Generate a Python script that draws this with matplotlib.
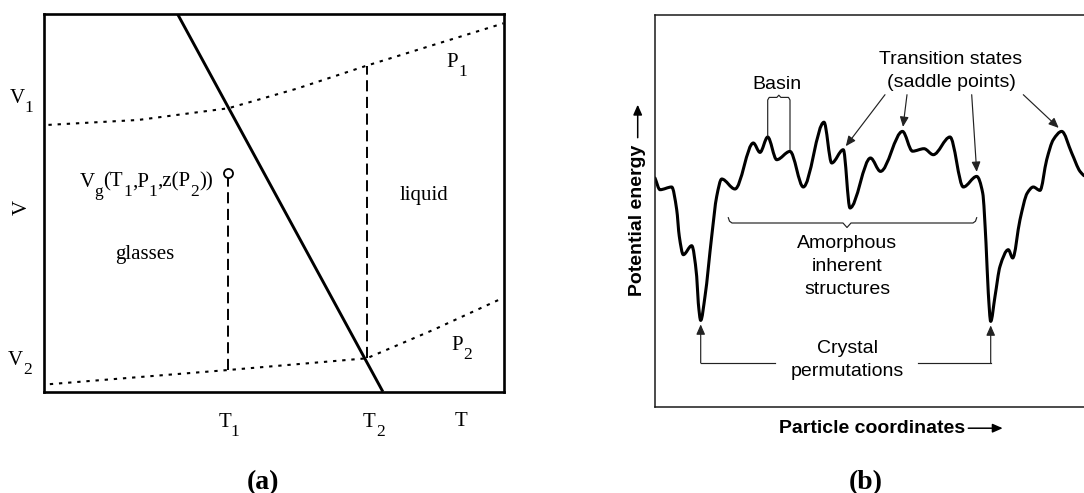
import numpy as np
import matplotlib
matplotlib.use("Agg")
import matplotlib.pyplot as plt
from matplotlib.path import Path
from matplotlib.patches import PathPatch
from matplotlib.transforms import offset_copy

plt.rcParams['lines.scale_dashes'] = False

SERIF = 'Liberation Serif'
SANS = 'Liberation Sans'

# ---------------- panel (a): V-T diagram, normalised units 0..100 ----------------
boundary_T = [29.0, 73.6]
boundary_V = [100.0, 0.0]
p1_T = [0.9, 20.4, 40.0, 54.9, 70.1, 84.9, 99.8]
p1_V = [70.7, 72.0, 75.1, 80.3, 86.4, 92.0, 97.6]
p2_T = [1.2, 40.0, 70.1, 84.6, 99.8]
p2_V = [2.0, 5.75, 8.85, 16.4, 24.9]
T1, T2 = 40.0, 70.1
t1_drop_V = [5.75, 57.9]
t2_drop_V = [8.85, 86.4]

# ---------------- panel (b): energy landscape ----------------
coord = [0, 5, 16.7, 21.7, 24.3, 28.3, 36.7, 41.7, 43.3, 45.7, 50, 56.7, 61.7, 66.7,
         80, 98.3, 105, 112.7, 121.7, 135, 148.3, 169, 176.7, 188.3, 195, 215.5,
         225.5, 247.5, 257.5, 269, 278.3, 295, 308.3, 321.7, 327.7, 331, 333.3,
         335.7, 340, 345, 353.3, 357.7, 365, 372.3, 378.3, 385, 391.7, 398.3,
         406.7, 416.7, 425, 429]
energy = [228.7, 217, 219.7, 197, 170.3, 152, 161, 130.3, 103.7, 86.3, 110.3, 170.3,
          210.3, 227.7, 217.7, 263.7, 254.3, 269.7, 247, 255.3, 219.7, 284.5, 243.7,
          257, 198.7, 248.7, 235.3, 275.3, 255.5, 258, 252, 269.7, 219.7, 230.3,
          213.7, 163.7, 113.7, 85.3, 110.3, 140.3, 157, 148.7, 187, 213.7, 219.7,
          216.3, 247, 267, 275.3, 253.7, 235.3, 231]
basin_idx = (17, 19)            # the two maxima bounding one basin
saddle_idx = [23, 27, 33, 48]   # transition states that are labelled
crystal_idx = [9, 37]           # crystalline minima


def smooth_path(x, y):
    """Shape-preserving cubic (PCHIP-style) Bezier path through the points."""
    x = np.asarray(x, float)
    y = np.asarray(y, float)
    h = np.diff(x)
    d = np.diff(y) / h
    m = np.zeros_like(x)
    for i in range(1, len(x) - 1):
        if d[i - 1] * d[i] > 0:
            w1 = 2 * h[i] + h[i - 1]
            w2 = h[i] + 2 * h[i - 1]
            m[i] = (w1 + w2) / (w1 / d[i - 1] + w2 / d[i])
    m[0] = d[0]
    m[-1] = d[-1]
    verts = [(x[0], y[0])]
    codes = [Path.MOVETO]
    for i in range(len(x) - 1):
        verts += [(x[i] + h[i] / 3, y[i] + m[i] * h[i] / 3),
                  (x[i + 1] - h[i] / 3, y[i + 1] - m[i + 1] * h[i] / 3),
                  (x[i + 1], y[i + 1])]
        codes += [Path.CURVE4] * 3
    return Path(verts, codes)


W, H = 1084, 493
fig = plt.figure(figsize=(W / 100, H / 100), dpi=100)
fig.patch.set_facecolor('white')
renderer = fig.canvas.get_renderer()


def box(left, top, right, bottom):
    return [left / W, 1 - bottom / H, (right - left) / W, (bottom - top) / H]


def sub_label(ax, x, y, parts, fs=15, sub_fs=12.5, drop=6.5, ha='left'):
    """Serif label built from (text, is_subscript) pieces laid out in a row."""
    pieces = []
    dx = 0.0
    for s, sub in parts:
        t = ax.text(x, y, s, family=SERIF, fontsize=sub_fs if sub else fs,
                    ha='left', va='baseline')
        w = t.get_window_extent(renderer).width * 72.0 / fig.dpi
        pieces.append((t, dx, -drop if sub else 0.0))
        dx += w
    shift = -dx if ha == 'right' else (-dx / 2 if ha == 'center' else 0.0)
    for t, ox, oy in pieces:
        t.set_transform(offset_copy(ax.transData, fig=fig, x=ox + shift, y=oy,
                                    units='points'))


# ================= panel (a) =================
ax = fig.add_axes(box(44.3, 14.3, 504.3, 391.7))
ax.set_xlim(0, 100)
ax.set_ylim(0, 100)
ax.set_xticks([])
ax.set_yticks([])
for s in ax.spines.values():
    s.set_linewidth(1.9)
    s.set_color('black')

ax.plot(boundary_T, boundary_V, color='black', lw=2.1, solid_capstyle='butt')
ax.plot(p1_T, p1_V, color='black', lw=1.5, ls=(0, (2.4, 4.2)))
ax.plot(p2_T, p2_V, color='black', lw=1.5, ls=(0, (2.4, 4.2)))
ax.plot([T1, T1], [t1_drop_V[0], t1_drop_V[1] - 1.2], color='black', lw=1.4,
        ls=(0, (8, 4)))
ax.plot([T2, T2], t2_drop_V, color='black', lw=1.4, ls=(0, (8, 4)))
ax.plot([T1], [t1_drop_V[1]], marker='o', ms=6.5, mfc='white', mec='black',
        mew=1.3, zorder=5)

fs_a = 15
sub_label(ax, -7.5, 76.5, [('V', 0), ('1', 1)])
sub_label(ax, -7.9, 7.1, [('V', 0), ('2', 1)])
ax.text(-4.7, 48.9, 'V', family=SERIF, fontsize=fs_a, rotation=90,
        ha='center', va='center')
sub_label(ax, 37.8, -9.3, [('T', 0), ('1', 1)])
sub_label(ax, 69.3, -9.3, [('T', 0), ('2', 1)])
ax.text(89.3, -9.1, 'T', family=SERIF, fontsize=fs_a, ha='left', va='baseline')
sub_label(ax, 87.5, 86.1, [('P', 0), ('1', 1)])
sub_label(ax, 88.6, 11.0, [('P', 0), ('2', 1)])
ax.text(82.5, 50.8, 'liquid', family=SERIF, fontsize=fs_a, ha='center',
        va='baseline')
ax.text(21.9, 35.2, 'glasses', family=SERIF, fontsize=fs_a, ha='center',
        va='baseline')
sub_label(ax, 36.7, 54.3,
          [('V', 0), ('g', 1), ('(T', 0), ('1', 1), (',P', 0), ('1', 1),
           (',z(P', 0), ('2', 1), ('))', 0)], ha='right')

fig.text(263 / W, 1 - 489 / H, '(a)', family=SERIF, fontweight='bold',
         fontsize=20, ha='center', va='baseline')

# ================= panel (b) =================
bx = fig.add_axes(box(655, 14.5, 1084, 406.7))
bx.set_xlim(0, 429)
bx.set_ylim(0, 392.2)
bx.set_xticks([])
bx.set_yticks([])
bx.spines['right'].set_visible(False)
for k in ('left', 'top', 'bottom'):
    bx.spines[k].set_linewidth(1.1)
    bx.spines[k].set_color('#1a1a1a')

bx.add_patch(PathPatch(smooth_path(coord, energy), facecolor='none',
                       edgecolor='black', lw=2.2, capstyle='round',
                       joinstyle='round'))

ink = '#222222'
fs_b = 14
thin = 0.85
head = '-|>,head_length=0.5,head_width=0.22'

# basin bracket
xa, xb = coord[basin_idx[0]], coord[basin_idx[1]]
top = 309.3
xm = (xa + xb) / 2
bx.plot([xa, xa, xa + 1.5, xm - 2, xm, xm + 2, xb - 1.5, xb, xb],
        [energy[basin_idx[0]] + 1, top - 2.6, top, top, top + 2.2, top, top,
         top - 2.6, energy[basin_idx[1]] + 2], color=ink, lw=thin)
bx.text(xm - 2, 317.7, 'Basin', family=SANS, fontsize=fs_b, ha='center',
        va='baseline')

# transition-state arrows
bx.text(296, 343, 'Transition states', family=SANS, fontsize=fs_b,
        ha='center', va='baseline')
bx.text(296, 319.7, '(saddle points)', family=SANS, fontsize=fs_b,
        ha='center', va='baseline')
starts = [(230, 312), (252, 312), (316.7, 312), (368.3, 312)]
tip_off = [(2.5, 3.5), (0.5, 4.5), (0, 4.5), (-3, 3.5)]
for (sx, sy), i, (ox, oy) in zip(starts, saddle_idx, tip_off):
    bx.annotate('', xy=(coord[i] + ox, energy[i] + oy), xytext=(sx, sy),
                arrowprops=dict(arrowstyle=head, color=ink, lw=thin,
                                mutation_scale=12, shrinkA=0, shrinkB=0))

# amorphous brace
bl, br, yb = 73.3, 321.7, 183.7
bc = 192
bx.plot([bl, bl + 1.2, bl + 3.7, bc - 4, bc, bc + 4, br - 3.7, br - 1.2, br],
        [189, 185.5, yb, yb, yb - 4.5, yb, yb, 185.5, 189], color=ink, lw=thin)
for txt, yy in zip(['Amorphous', 'inherent', 'structures'], [158.7, 135.3, 113]):
    bx.text(bc, yy, txt, family=SANS, fontsize=fs_b, ha='center', va='baseline')

# crystal permutation arrows
ya = 43.7
for i, xe in zip(crystal_idx, [120, 263.3]):
    xc = coord[i]
    bx.plot([xe, xc], [ya, ya], color=ink, lw=thin)
    bx.annotate('', xy=(xc, energy[i] - 4), xytext=(xc, ya),
                arrowprops=dict(arrowstyle=head, color=ink, lw=thin,
                                mutation_scale=12, shrinkA=0, shrinkB=0))
bx.text(bc, 53.7, 'Crystal', family=SANS, fontsize=fs_b, ha='center',
        va='baseline')
bx.text(bc, 31, 'permutations', family=SANS, fontsize=fs_b, ha='center',
        va='baseline')

# axis labels with arrows
bx.text(217, -26.3, 'Particle coordinates', family=SANS, fontweight='bold',
        fontsize=fs_b, ha='center', va='baseline', clip_on=False)
bx.annotate('', xy=(347.7, -21.5), xytext=(313.3, -21.5), annotation_clip=False,
            arrowprops=dict(arrowstyle=head, color='black', lw=1.1,
                            mutation_scale=12, shrinkA=0, shrinkB=0))
bx.text(-18, 186.2, 'Potential energy', family=SANS, fontweight='bold',
        fontsize=fs_b, rotation=90, ha='center', va='center', clip_on=False)
bx.annotate('', xy=(-17.3, 302), xytext=(-17.3, 269), annotation_clip=False,
            arrowprops=dict(arrowstyle=head, color='black', lw=1.1,
                            mutation_scale=12, shrinkA=0, shrinkB=0))

fig.text(866 / W, 1 - 489 / H, '(b)', family=SERIF, fontweight='bold',
         fontsize=20, ha='center', va='baseline')

fig.savefig('out.png', dpi=100, facecolor='white')
